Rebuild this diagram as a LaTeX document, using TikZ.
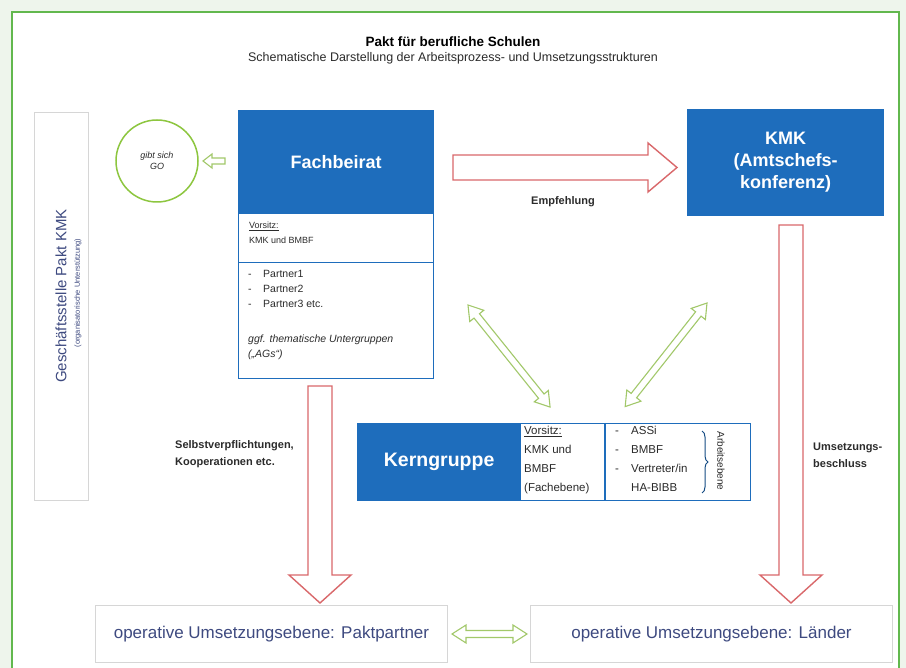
\documentclass[tikz,border=0pt]{standalone}
\usepackage{fontspec}
\setmainfont{Liberation Sans}
\usetikzlibrary{decorations.pathreplacing}
\definecolor{bgout}{HTML}{EEF5EC}
\definecolor{framegreen}{HTML}{62B84E}
\definecolor{kblue}{HTML}{1E6DBC}
\definecolor{kred}{HTML}{D9686B}
\definecolor{kgreen}{HTML}{A2C86A}
\definecolor{cgreen}{HTML}{8DC63F}
\definecolor{navy}{HTML}{3E4A80}
\definecolor{txt}{HTML}{2B2B2B}
\definecolor{lgray}{HTML}{D6D6D6}
\tikzset{
  bluebox/.style={fill=kblue, draw=kblue, line width=1.2pt, text=white, font=\bfseries\fontsize{18}{22}\selectfont, align=center, inner sep=0pt, anchor=north west},
  whitebox/.style={draw=kblue, line width=1.2pt, fill=white, inner sep=0pt, anchor=north west},
  graybox/.style={draw=lgray, line width=1pt, fill=white, inner sep=0pt, anchor=north west},
  redarr/.style={draw=kred, line width=1.4pt, fill=white, line join=miter},
  grnarr/.style={draw=kgreen, line width=1.1pt, fill=white, line join=miter},
  lbl/.style={font=\bfseries\fontsize{11}{17}\selectfont, text=txt, align=left, inner sep=0pt},
  smalltxt/.style={text=txt, align=left, inner sep=0pt, anchor=north west},
  pics/blockarr/.style n args={5}{code={
    \draw[#1] (0,-#3) -- ({#2-#5},-#3) -- ({#2-#5},-#4) -- (#2,0) -- ({#2-#5},#4) -- ({#2-#5},#3) -- (0,#3) -- cycle;}},
  pics/dblarr/.style n args={5}{code={
    \draw[#1] (0,0) -- (#5,-#4) -- (#5,-#3) -- ({#2-#5},-#3) -- ({#2-#5},-#4) -- (#2,0) -- ({#2-#5},#4) -- ({#2-#5},#3) -- (#5,#3) -- (#5,#4) -- cycle;}}
}
\begin{document}
\begin{tikzpicture}[x=1pt,y=-1pt]
\useasboundingbox (0,0) rectangle (906,668);
\fill[bgout] (0,0) rectangle (906,668);
\draw[framegreen, line width=2pt, fill=white] (12,12) rectangle (899,690);

% title
\node[font=\bfseries\fontsize{13.5}{16}\selectfont, text=black] (title) at (453,42) {Pakt für berufliche Schulen};
\node[font=\fontsize{12.5}{14}\selectfont, text=txt] (subtitle) at (453,58) {Schematische Darstellung der Arbeitsprozess- und Umsetzungsstrukturen};

% left vertical box
\node[graybox, minimum width=54pt, minimum height=388pt] (gs) at (34,112) {};
\node[rotate=90, font=\fontsize{15}{18}\selectfont, text=navy] (gstxt) at (61,296) {Geschäftsstelle Pakt KMK};
\node[rotate=90, font=\fontsize{7.5}{9}\selectfont, text=navy] (gstxt2) at (78,293) {(organisatorische Unterstützung)};

% circle
\node[circle, draw=cgreen, line width=1.5pt, minimum size=82pt, inner sep=0pt, align=center, font=\itshape\fontsize{9}{11}\selectfont, text=txt] (go) at (157,161) {gibt sich\\GO};

% Fachbeirat
\node[whitebox, minimum width=195pt, minimum height=49pt] (fbvor) at (238,213) {};
\node[whitebox, minimum width=195pt, minimum height=116pt] (fblist) at (238,262) {};
\node[bluebox, minimum width=195pt, minimum height=103pt] (fbhead) at (238,110) {Fachbeirat};
\node[smalltxt, font=\fontsize{9}{15}\selectfont] (fbvt) at (249,222) {\underline{Vorsitz:}\\KMK und BMBF};
\node[smalltxt, font=\fontsize{10.5}{15}\selectfont] (fblt) at (248,270) {\makebox[15pt][l]{-}Partner1\\\makebox[15pt][l]{-}Partner2\\\makebox[15pt][l]{-}Partner3 etc.\\[20pt]\textit{ggf. thematische Untergruppen}\\\textit{(„AGs“)}};

% KMK
\node[bluebox, minimum width=196pt, minimum height=106pt] (kmk) at (687,109) {KMK\\(Amtschefs-\\konferenz)};

% Kerngruppe
\node[whitebox, minimum width=393pt, minimum height=77pt] (kg) at (357,423) {};
\node[bluebox, minimum width=163pt, minimum height=77pt, font=\bfseries\fontsize{19.5}{22}\selectfont] (kghead) at (357,423) {Kerngruppe};
\draw[kblue, line width=1.2pt] (605,423) -- (605,500);
\node[smalltxt, font=\fontsize{11.5}{19}\selectfont] (kgvt) at (524,426) {\underline{Vorsitz:}\\KMK und\\BMBF\\(Fachebene)};
\node[smalltxt, font=\fontsize{11.5}{19}\selectfont] (kgat) at (615,426) {\makebox[16pt][l]{-}ASSi\\\makebox[16pt][l]{-}BMBF\\\makebox[16pt][l]{-}Vertreter/in\\\makebox[16pt][l]{}HA-BIBB};
\coordinate (brtop) at (702,431);
\coordinate (brbot) at (702,493);
\draw[kblue!70!black, line width=1pt, decorate, decoration={brace, amplitude=6pt}] (brtop) -- (brbot);
\node[rotate=-90, font=\fontsize{10}{12}\selectfont, text=txt] (arb) at (721,461) {Arbeitsebene};

% bottom boxes
\node[graybox, minimum width=352pt, minimum height=57pt] (pp) at (95,605) {};
\node[font=\fontsize{17}{20}\selectfont, text=navy] (pptxt) at (pp.center) {operative Umsetzungsebene: Paktpartner};
\node[graybox, minimum width=362pt, minimum height=57pt] (la) at (530,605) {};
\node[font=\fontsize{17}{20}\selectfont, text=navy] (latxt) at (la.center) {operative Umsetzungsebene: Länder};

% arrows
\coordinate (gofrom) at (225,161);
\pic[rotate=180] at (gofrom) {blockarr={grnarr}{22}{3}{7}{9}};
\coordinate (empf) at (453,167.5);
\pic at (empf) {blockarr={redarr}{224}{12.5}{24.5}{29}};
\coordinate (fbdown) at (320,386);
\pic[rotate=-90] at (fbdown) {blockarr={redarr}{217}{12}{31}{28}};
\coordinate (kmkdown) at (791,225);
\pic[rotate=-90] at (kmkdown) {blockarr={redarr}{378}{12}{31}{28}};
\coordinate (dl) at (468,305);
\pic[rotate=-51.2] at (dl) {dblarr={grnarr}{131}{3.5}{9}{14}};
\coordinate (dr) at (707,303);
\pic[rotate=-128.3] at (dr) {dblarr={grnarr}{132}{3.5}{9}{14}};
\coordinate (hb) at (452,634);
\pic at (hb) {dblarr={grnarr}{75}{3.5}{9}{14}};

% labels
\node[lbl, anchor=center] (empftxt) at (563,202) {Empfehlung};
\node[lbl, anchor=west] (selbst) at (175,454) {Selbstverpflichtungen,\\Kooperationen etc.};
\node[lbl, anchor=west] (ums) at (813,455) {Umsetzungs-\\beschluss};
\end{tikzpicture}
\end{document}
